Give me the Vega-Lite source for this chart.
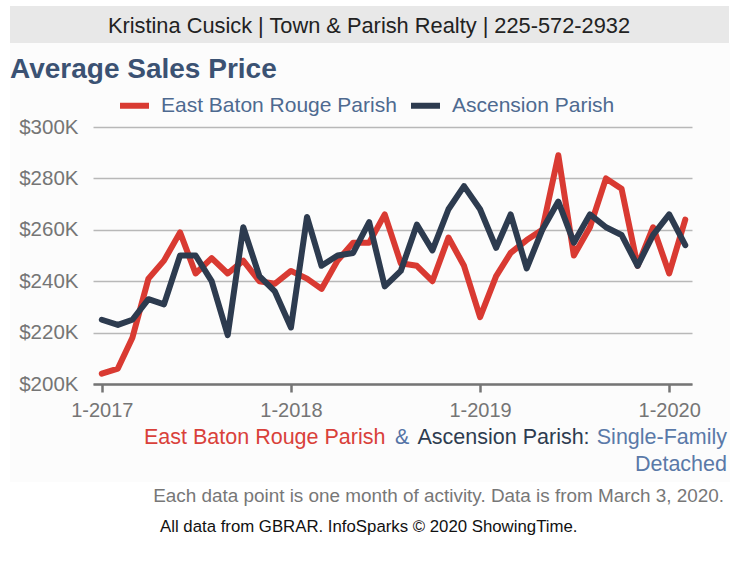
{
  "$schema": "https://vega.github.io/schema/vega-lite/v6.json",
  "width": 599,
  "height": 257,
  "autosize": "none",
  "padding": {"left": 93, "top": 127, "right": 46, "bottom": 178},
  "background": "#ffffff",
  "config": {"view": {"stroke": null}, "font": "Liberation Sans"},
  "layer": [
    {
      "data": {"values": [{}]},
      "mark": {"type": "rect", "fill": "#000000", "fillOpacity": 0.013},
      "encoding": {"x": {"value": -83}, "x2": {"value": 637}, "y": {"value": -84}, "y2": {"value": 355}}
    },
    {
      "data": {"values": [{}]},
      "mark": {"type": "rect", "fill": "#e8e8e8"},
      "encoding": {"x": {"value": -83}, "x2": {"value": 636}, "y": {"value": -121}, "y2": {"value": -84}}
    },
    {
      "data": {"values": [{"t": "Kristina Cusick | Town & Parish Realty | 225-572-2932"}]},
      "mark": {"type": "text", "align": "center", "baseline": "middle", "fontSize": 21.8, "color": "#222222"},
      "encoding": {"text": {"field": "t"}, "x": {"value": 276}, "y": {"value": -101}}
    },
    {
      "data": {"values": [{"t": "Average Sales Price"}]},
      "mark": {"type": "text", "align": "left", "baseline": "alphabetic", "fontSize": 28, "fontWeight": "bold", "color": "#3b5273"},
      "encoding": {"text": {"field": "t"}, "x": {"value": -83}, "y": {"value": -49}}
    },
    {
      "data": {"values": [
        {"date": "2017-01-01", "parish": "East Baton Rouge Parish", "price": 204000},
        {"date": "2017-02-01", "parish": "East Baton Rouge Parish", "price": 206000},
        {"date": "2017-03-01", "parish": "East Baton Rouge Parish", "price": 218000},
        {"date": "2017-04-01", "parish": "East Baton Rouge Parish", "price": 241000},
        {"date": "2017-05-01", "parish": "East Baton Rouge Parish", "price": 248000},
        {"date": "2017-06-01", "parish": "East Baton Rouge Parish", "price": 259000},
        {"date": "2017-07-01", "parish": "East Baton Rouge Parish", "price": 243000},
        {"date": "2017-08-01", "parish": "East Baton Rouge Parish", "price": 249000},
        {"date": "2017-09-01", "parish": "East Baton Rouge Parish", "price": 243000},
        {"date": "2017-10-01", "parish": "East Baton Rouge Parish", "price": 248000},
        {"date": "2017-11-01", "parish": "East Baton Rouge Parish", "price": 240000},
        {"date": "2017-12-01", "parish": "East Baton Rouge Parish", "price": 239000},
        {"date": "2018-01-01", "parish": "East Baton Rouge Parish", "price": 244000},
        {"date": "2018-02-01", "parish": "East Baton Rouge Parish", "price": 241000},
        {"date": "2018-03-01", "parish": "East Baton Rouge Parish", "price": 237000},
        {"date": "2018-04-01", "parish": "East Baton Rouge Parish", "price": 248000},
        {"date": "2018-05-01", "parish": "East Baton Rouge Parish", "price": 255000},
        {"date": "2018-06-01", "parish": "East Baton Rouge Parish", "price": 255000},
        {"date": "2018-07-01", "parish": "East Baton Rouge Parish", "price": 266000},
        {"date": "2018-08-01", "parish": "East Baton Rouge Parish", "price": 247000},
        {"date": "2018-09-01", "parish": "East Baton Rouge Parish", "price": 246000},
        {"date": "2018-10-01", "parish": "East Baton Rouge Parish", "price": 240000},
        {"date": "2018-11-01", "parish": "East Baton Rouge Parish", "price": 257000},
        {"date": "2018-12-01", "parish": "East Baton Rouge Parish", "price": 246000},
        {"date": "2019-01-01", "parish": "East Baton Rouge Parish", "price": 226000},
        {"date": "2019-02-01", "parish": "East Baton Rouge Parish", "price": 242000},
        {"date": "2019-03-01", "parish": "East Baton Rouge Parish", "price": 251000},
        {"date": "2019-04-01", "parish": "East Baton Rouge Parish", "price": 256000},
        {"date": "2019-05-01", "parish": "East Baton Rouge Parish", "price": 260000},
        {"date": "2019-06-01", "parish": "East Baton Rouge Parish", "price": 289000},
        {"date": "2019-07-01", "parish": "East Baton Rouge Parish", "price": 250000},
        {"date": "2019-08-01", "parish": "East Baton Rouge Parish", "price": 261000},
        {"date": "2019-09-01", "parish": "East Baton Rouge Parish", "price": 280000},
        {"date": "2019-10-01", "parish": "East Baton Rouge Parish", "price": 276000},
        {"date": "2019-11-01", "parish": "East Baton Rouge Parish", "price": 246000},
        {"date": "2019-12-01", "parish": "East Baton Rouge Parish", "price": 261000},
        {"date": "2020-01-01", "parish": "East Baton Rouge Parish", "price": 243000},
        {"date": "2020-02-01", "parish": "East Baton Rouge Parish", "price": 264000},
        {"date": "2017-01-01", "parish": "Ascension Parish", "price": 225000},
        {"date": "2017-02-01", "parish": "Ascension Parish", "price": 223000},
        {"date": "2017-03-01", "parish": "Ascension Parish", "price": 225000},
        {"date": "2017-04-01", "parish": "Ascension Parish", "price": 233000},
        {"date": "2017-05-01", "parish": "Ascension Parish", "price": 231000},
        {"date": "2017-06-01", "parish": "Ascension Parish", "price": 250000},
        {"date": "2017-07-01", "parish": "Ascension Parish", "price": 250000},
        {"date": "2017-08-01", "parish": "Ascension Parish", "price": 240000},
        {"date": "2017-09-01", "parish": "Ascension Parish", "price": 219000},
        {"date": "2017-10-01", "parish": "Ascension Parish", "price": 261000},
        {"date": "2017-11-01", "parish": "Ascension Parish", "price": 242000},
        {"date": "2017-12-01", "parish": "Ascension Parish", "price": 236000},
        {"date": "2018-01-01", "parish": "Ascension Parish", "price": 222000},
        {"date": "2018-02-01", "parish": "Ascension Parish", "price": 265000},
        {"date": "2018-03-01", "parish": "Ascension Parish", "price": 246000},
        {"date": "2018-04-01", "parish": "Ascension Parish", "price": 250000},
        {"date": "2018-05-01", "parish": "Ascension Parish", "price": 251000},
        {"date": "2018-06-01", "parish": "Ascension Parish", "price": 263000},
        {"date": "2018-07-01", "parish": "Ascension Parish", "price": 238000},
        {"date": "2018-08-01", "parish": "Ascension Parish", "price": 244000},
        {"date": "2018-09-01", "parish": "Ascension Parish", "price": 262000},
        {"date": "2018-10-01", "parish": "Ascension Parish", "price": 252000},
        {"date": "2018-11-01", "parish": "Ascension Parish", "price": 268000},
        {"date": "2018-12-01", "parish": "Ascension Parish", "price": 277000},
        {"date": "2019-01-01", "parish": "Ascension Parish", "price": 268000},
        {"date": "2019-02-01", "parish": "Ascension Parish", "price": 253000},
        {"date": "2019-03-01", "parish": "Ascension Parish", "price": 266000},
        {"date": "2019-04-01", "parish": "Ascension Parish", "price": 245000},
        {"date": "2019-05-01", "parish": "Ascension Parish", "price": 260000},
        {"date": "2019-06-01", "parish": "Ascension Parish", "price": 271000},
        {"date": "2019-07-01", "parish": "Ascension Parish", "price": 255000},
        {"date": "2019-08-01", "parish": "Ascension Parish", "price": 266000},
        {"date": "2019-09-01", "parish": "Ascension Parish", "price": 261000},
        {"date": "2019-10-01", "parish": "Ascension Parish", "price": 258000},
        {"date": "2019-11-01", "parish": "Ascension Parish", "price": 246000},
        {"date": "2019-12-01", "parish": "Ascension Parish", "price": 258000},
        {"date": "2020-01-01", "parish": "Ascension Parish", "price": 266000},
        {"date": "2020-02-01", "parish": "Ascension Parish", "price": 254000}
      ]},
      "mark": {"type": "line", "strokeWidth": 6, "strokeJoin": "round", "strokeCap": "round"},
      "encoding": {
        "x": {
          "field": "date", "type": "temporal",
          "scale": {"type": "utc", "domain": [{"year": 2016, "month": 12, "date": 15, "utc": true}, {"year": 2020, "month": 2, "date": 14, "utc": true}]},
          "axis": {
            "title": null, "grid": false, "format": "%-m-%Y",
            "values": [{"year": 2017, "month": 1, "date": 1, "utc": true}, {"year": 2018, "month": 1, "date": 1, "utc": true}, {"year": 2019, "month": 1, "date": 1, "utc": true}, {"year": 2020, "month": 1, "date": 1, "utc": true}],
            "domainColor": "#777777", "domainWidth": 2.5, "tickColor": "#777777", "tickWidth": 2.5, "tickSize": 8,
            "labelFontSize": 20, "labelColor": "#777777", "labelPadding": 8, "labelFont": "Liberation Sans"
          }
        },
        "y": {
          "field": "price", "type": "quantitative",
          "scale": {"domain": [200000, 300000], "nice": false, "zero": false},
          "axis": {
            "title": null, "domain": false, "ticks": false, "grid": true, "gridColor": "#bbbbbb", "gridWidth": 1.5,
            "values": [200000, 220000, 240000, 260000, 280000, 300000],
            "labelExpr": "'$' + (datum.value / 1000) + 'K'",
            "labelFontSize": 20.5, "labelColor": "#777777", "labelPadding": 15, "labelFont": "Liberation Sans"
          }
        },
        "color": {
          "field": "parish", "type": "nominal",
          "scale": {"domain": ["East Baton Rouge Parish", "Ascension Parish"], "range": ["#d93a32", "#2d3b4f"]},
          "legend": {
            "title": null, "orient": "none", "legendX": 24, "legendY": -39, "direction": "horizontal",
            "symbolType": "stroke", "symbolSize": 841, "symbolStrokeWidth": 6,
            "labelFontSize": 21, "labelColor": "#4e6a90", "labelOffset": 9, "columnPadding": 2, "labelLimit": 400,
            "labelFont": "Liberation Sans"
          }
        }
      }
    },
    {
      "data": {"values": [{"t": "East Baton Rouge Parish"}]},
      "mark": {"type": "text", "align": "left", "baseline": "middle", "fontSize": 21.5, "color": "#d9413a"},
      "encoding": {"text": {"field": "t"}, "x": {"value": 51}, "y": {"value": 311}}
    },
    {
      "data": {"values": [{"t": "&"}]},
      "mark": {"type": "text", "align": "left", "baseline": "middle", "fontSize": 21.5, "color": "#5574a6"},
      "encoding": {"text": {"field": "t"}, "x": {"value": 302}, "y": {"value": 311}}
    },
    {
      "data": {"values": [{"t": "Ascension Parish:"}]},
      "mark": {"type": "text", "align": "left", "baseline": "middle", "fontSize": 21.5, "color": "#2e3c50"},
      "encoding": {"text": {"field": "t"}, "x": {"value": 324.5}, "y": {"value": 311}}
    },
    {
      "data": {"values": [{"t": "Single-Family"}]},
      "mark": {"type": "text", "align": "right", "baseline": "middle", "fontSize": 21.5, "color": "#5a79a8"},
      "encoding": {"text": {"field": "t"}, "x": {"value": 634}, "y": {"value": 311}}
    },
    {
      "data": {"values": [{"t": "Detached"}]},
      "mark": {"type": "text", "align": "right", "baseline": "middle", "fontSize": 21.5, "color": "#5a79a8"},
      "encoding": {"text": {"field": "t"}, "x": {"value": 634}, "y": {"value": 338}}
    },
    {
      "data": {"values": [{"t": "Each data point is one month of activity. Data is from March 3, 2020."}]},
      "mark": {"type": "text", "align": "right", "baseline": "middle", "fontSize": 18.9, "color": "#777777"},
      "encoding": {"text": {"field": "t"}, "x": {"value": 631}, "y": {"value": 369}}
    },
    {
      "data": {"values": [{"t": "All data from GBRAR. InfoSparks © 2020 ShowingTime."}]},
      "mark": {"type": "text", "align": "left", "baseline": "middle", "fontSize": 16.8, "color": "#111111"},
      "encoding": {"text": {"field": "t"}, "x": {"value": 67}, "y": {"value": 400}}
    }
  ]
}
